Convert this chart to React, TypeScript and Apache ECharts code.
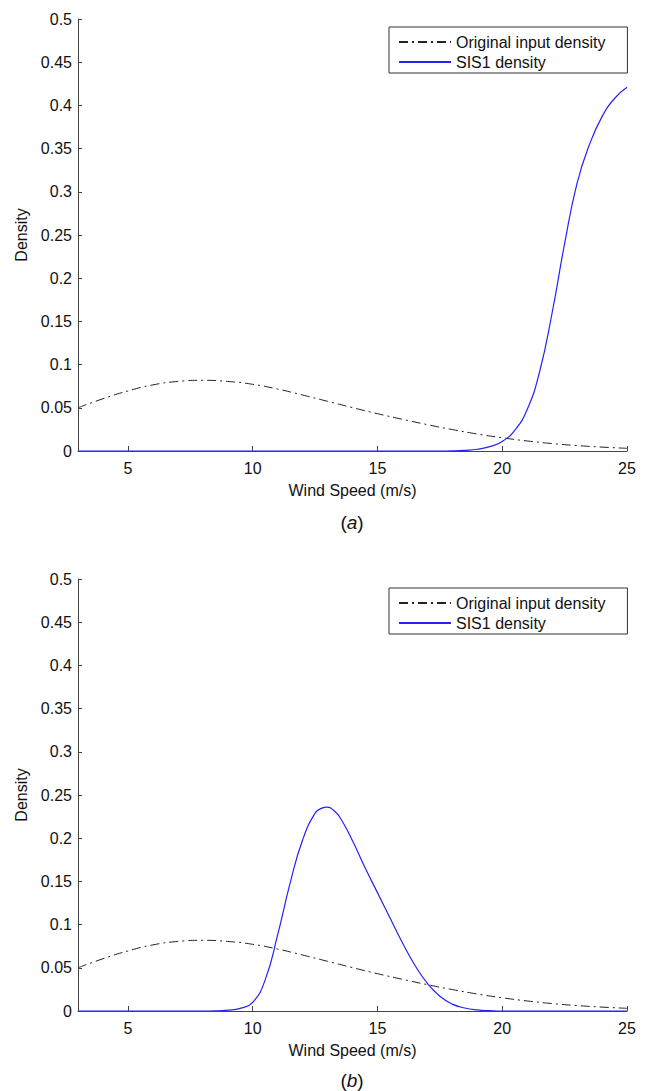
import React, { useEffect, useRef } from 'react';
import * as echarts from 'echarts';

// Wind speed grid for the original input density (m/s)
const windSpeed = [3, 4, 5, 6, 7, 8, 9, 10, 11, 12, 13, 14, 15, 16, 17, 18, 19, 20, 21, 22, 23, 24, 25];
const originalDensity = [0.05, 0.0605, 0.0695, 0.0765, 0.0805, 0.0818, 0.0805, 0.0772, 0.0717, 0.0648, 0.0575, 0.0502, 0.0432, 0.0367, 0.0305, 0.0248, 0.0197, 0.0153, 0.0116, 0.0086, 0.0063, 0.0045, 0.0031];

// (a) SIS1 density
const sisAWind = [3, 17, 17.5, 18, 18.5, 19, 19.5, 20, 20.5, 21, 21.5, 22, 22.5, 23, 23.5, 24, 24.5, 25];
const sisADensity = [0, 0, 0, 0.0002, 0.0008, 0.002, 0.005, 0.011, 0.024, 0.048, 0.092, 0.16, 0.24, 0.31, 0.355, 0.387, 0.408, 0.421];

// (b) SIS1 density
const sisBWind = [3, 8, 8.5, 9, 9.5, 10, 10.5, 11, 11.5, 12, 12.5, 12.75, 13, 13.25, 13.5, 14, 14.5, 15, 15.5, 16, 16.5, 17, 17.5, 18, 18.5, 19, 19.5, 20, 25];
const sisBDensity = [0, 0, 0.0002, 0.001, 0.003, 0.01, 0.036, 0.088, 0.148, 0.198, 0.229, 0.2345, 0.236, 0.232, 0.224, 0.197, 0.166, 0.137, 0.108, 0.079, 0.053, 0.032, 0.017, 0.008, 0.0035, 0.0013, 0.0004, 0, 0];

const xTicks = [5, 10, 15, 20, 25];
const seriesNames = ['Original input density', 'SIS1 density'];
const panelLabels = ['a', 'b'];

const FONT = '"Liberation Sans", Arial, Helvetica, sans-serif';
const AXIS_COLOR = '#444';
const DASH_COLOR = '#222';
const BLUE = '#2222ff';

const pairs = (xs: number[], ys: number[]) => xs.map((x, i) => [x, ys[i]]);

export default function App() {
  const ref = useRef<HTMLDivElement>(null);

  useEffect(() => {
    if (!ref.current) return;
    const chart = echarts.init(ref.current, undefined, { renderer: 'svg' });

    const gridTops = [19, 579];
    const grids = gridTops.map((top) => ({ left: 78, top, width: 549, height: 432 }));

    const xAxes = grids.map((_, i) => ({
      type: 'value',
      gridIndex: i,
      min: 3,
      max: 25,
      name: 'Wind Speed (m/s)',
      nameLocation: 'middle',
      nameGap: 31,
      nameTextStyle: { fontFamily: FONT, fontSize: 16, color: '#111' },
      axisLine: { show: true, onZero: false, lineStyle: { color: AXIS_COLOR, width: 1 } },
      axisTick: { show: true, inside: true, length: 5, customValues: xTicks, lineStyle: { color: AXIS_COLOR } },
      axisLabel: { customValues: xTicks, margin: 9, fontFamily: FONT, fontSize: 16, color: '#111' },
      splitLine: { show: false },
    }));

    const yAxes = grids.map((_, i) => ({
      type: 'value',
      gridIndex: i,
      min: 0,
      max: 0.5,
      interval: 0.05,
      name: 'Density',
      nameLocation: 'middle',
      nameGap: 48,
      nameRotate: 90,
      nameTextStyle: { fontFamily: FONT, fontSize: 16, color: '#111' },
      axisLine: { show: true, lineStyle: { color: AXIS_COLOR, width: 1 } },
      axisTick: { show: true, inside: true, length: 4, lineStyle: { color: AXIS_COLOR } },
      axisLabel: { margin: 6, fontFamily: FONT, fontSize: 16, color: '#111' },
      splitLine: { show: false },
    }));

    const dashStyle = { color: DASH_COLOR, width: 1, type: [9, 4, 2, 4] };
    const blueStyle = { color: BLUE, width: 1.2, type: 'solid' };

    const series: any[] = [];
    [0, 1].forEach((i) => {
      series.push({
        name: seriesNames[0],
        type: 'line',
        xAxisIndex: i,
        yAxisIndex: i,
        data: pairs(windSpeed, originalDensity),
        symbol: 'none',
        smooth: 0.5,
        color: DASH_COLOR,
        lineStyle: dashStyle,
        z: 2,
      });
      series.push({
        name: seriesNames[1],
        type: 'line',
        xAxisIndex: i,
        yAxisIndex: i,
        data: i === 0 ? pairs(sisAWind, sisADensity) : pairs(sisBWind, sisBDensity),
        symbol: 'none',
        smooth: 0.5,
        color: BLUE,
        lineStyle: blueStyle,
        z: 3,
      });
    });

    const legendTops = [27, 588];
    const legends = legendTops.map((top) => ({
      left: 389,
      top,
      orient: 'vertical',
      data: seriesNames,
      itemWidth: 52,
      itemHeight: 14,
      itemGap: 4,
      padding: [7, 22, 3, 9],
      borderColor: '#333',
      borderWidth: 1,
      backgroundColor: '#fff',
      selectedMode: false,
      itemStyle: { opacity: 0 },
      textStyle: { fontFamily: FONT, fontSize: 16, color: '#111', lineHeight: 16 },
    }));

    const labelYs = [522, 1080];
    const graphics = labelYs.map((y, i) => ({
      type: 'text',
      x: 352,
      y,
      style: {
        text: '({i|' + panelLabels[i] + '})',
        fontFamily: FONT,
        fontSize: 19,
        fill: '#111',
        align: 'center',
        verticalAlign: 'middle',
        rich: { i: { fontStyle: 'italic', fontFamily: FONT, fontSize: 19, fill: '#111' } },
      },
    }));

    chart.setOption({
      animation: false,
      backgroundColor: '#fff',
      grid: grids,
      xAxis: xAxes,
      yAxis: yAxes,
      legend: legends,
      series,
      graphic: graphics,
    });

    return () => chart.dispose();
  }, []);

  return (
    <div
      ref={ref}
      style={{ position: 'fixed', left: 0, top: 0, width: 645, height: 1091, background: '#fff' }}
    />
  );
}
